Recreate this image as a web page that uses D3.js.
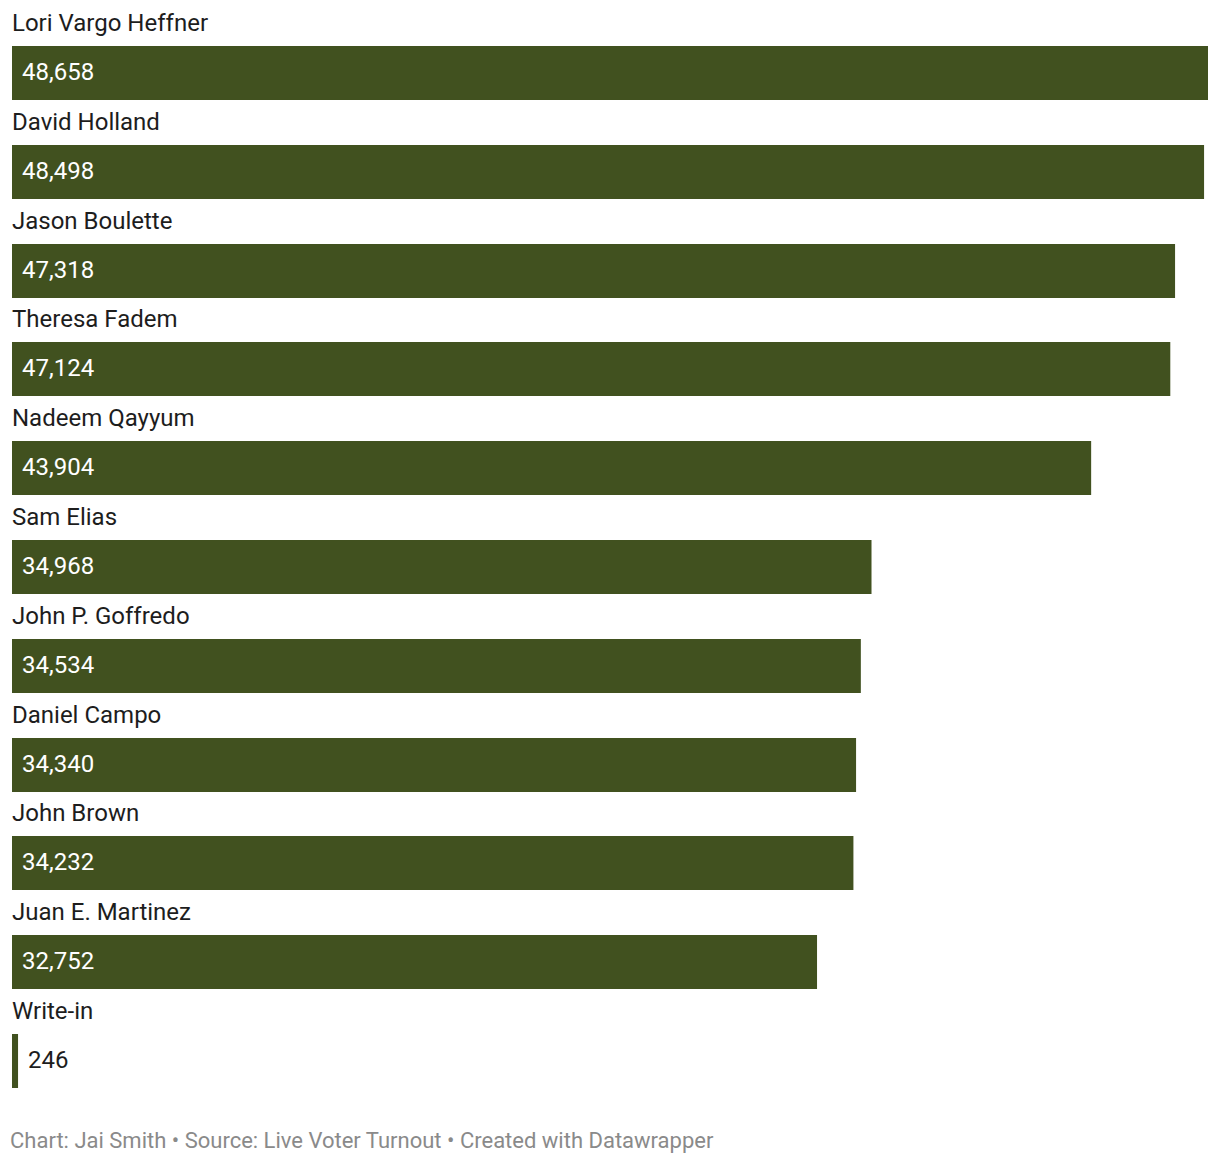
<!DOCTYPE html>
<html>
<head>
<meta charset="utf-8">
<script src="https://cdn.jsdelivr.net/npm/d3@7.9.0/dist/d3.min.js"></script>
<style>
  body { margin: 0; background: #fff; font-family: Roboto, sans-serif; }
  svg text { font-family: Roboto, sans-serif; }
</style>
</head>
<body>
<svg id="chart" width="1220" height="1166"></svg>
<script>
const names = ['Lori Vargo Heffner', 'David Holland', 'Jason Boulette', 'Theresa Fadem',
  'Nadeem Qayyum', 'Sam Elias', 'John P. Goffredo', 'Daniel Campo', 'John Brown',
  'Juan E. Martinez', 'Write-in'];
const votes = [48658, 48498, 47318, 47124, 43904, 34968, 34534, 34340, 34232, 32752, 246];

const svg = d3.select('#chart');
const marginLeft = 12, marginRight = 1208, firstBar = 46, barH = 54, step = 98.8;

let x = d3.scaleLinear().domain([0, d3.max(votes)]).range([marginLeft, marginRight]);
let y = (i) => Math.round(firstBar + i * step);
let fmt = d3.format(',');

const rows = svg.selectAll('g.row')
  .data(names)
  .join('g')
  .attr('class', 'row');

rows.append('text')
  .attr('x', marginLeft)
  .attr('y', (d, i) => y(i) - 15)
  .attr('font-size', 24)
  .attr('fill', '#1d1d1d')
  .text((d) => d);

rows.append('rect')
  .attr('x', marginLeft)
  .attr('y', (d, i) => y(i))
  .attr('width', (d, i) => x(votes[i]) - marginLeft)
  .attr('height', barH)
  .attr('fill', '#41511f');

// value labels: inside the bar in white, outside in dark when the bar is too short
rows.append('text')
  .attr('x', (d, i) => {
    let w = x(votes[i]) - marginLeft;
    return w > 80 ? marginLeft + 10 : x(votes[i]) + 10;
  })
  .attr('y', (d, i) => y(i) + 34)
  .attr('font-size', 24)
  .attr('fill', (d, i) => (x(votes[i]) - marginLeft > 80 ? '#ffffff' : '#1d1d1d'))
  .text((d, i) => fmt(votes[i]));

svg.append('text')
  .attr('x', marginLeft - 2)
  .attr('y', 1148)
  .attr('font-size', 22)
  .attr('fill', '#8a8a8a')
  .text('Chart: Jai Smith \u2022 Source: Live Voter Turnout \u2022 Created with Datawrapper');
</script>
</body>
</html>
